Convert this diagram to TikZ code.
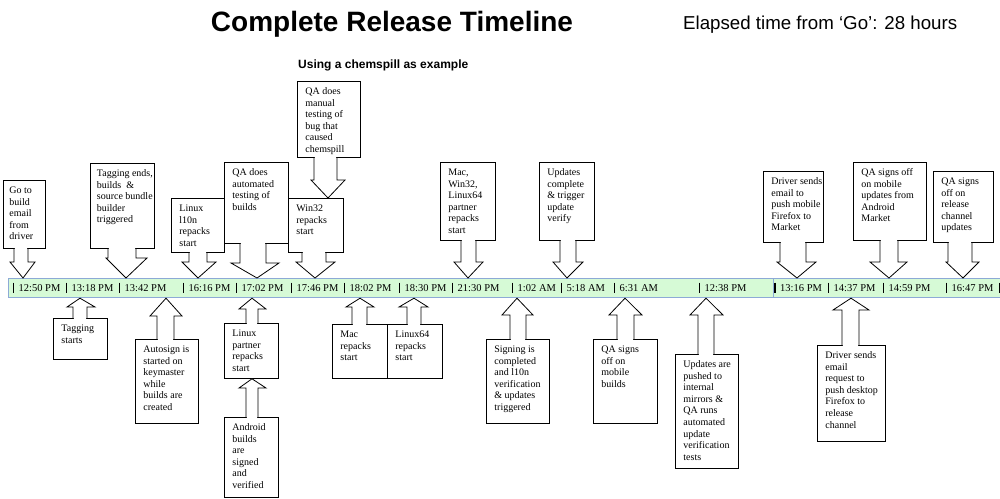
\documentclass[tikz,border=0pt]{standalone}
\usepackage{fontspec}
\setmainfont{Liberation Serif}
\newfontfamily\hfont{Liberation Sans}
\usetikzlibrary{calc}
\definecolor{barfill}{RGB}{214,250,214}
\definecolor{barline}{RGB}{141,170,214}
\tikzset{
  cbox/.style={draw=black, line width=0.8pt, fill=white, inner sep=0pt, anchor=north west},
  blockarr/.style={draw=black, line width=0.8pt, fill=white, line join=miter},
  timebar/.style={draw=barline, line width=1.2pt, fill=barfill, inner sep=0pt, anchor=north west, minimum height=19pt},
  tickmark/.style={line width=0.9pt, black},
  tlabel/.style={font=\fontsize{10.5}{12}\selectfont, inner sep=0pt, anchor=base west},
}
% callout box: name, left x, top y, width, height, left inset, lines
\newcommand{\cb}[7]{%
  \node[cbox] (#1) at (#2,#3) {\parbox[t][#5pt][t]{#4pt}{\fontsize{10}{11.6}\selectfont\vspace*{4.9pt}\hspace*{#6pt}\begin{tabular}[t]{@{}l@{}}#7\end{tabular}}};}
% block arrow: box anchor, tip coordinate, shaft left x, shaft right x, head left x, head right x, head base y
\newcommand{\barr}[7]{%
  \filldraw[blockarr] (#3,0 |- #1) -- (#3,#7) -- (#5,#7) -- (#2) -- (#6,#7) -- (#4,#7) -- (#4,0 |- #1);
  \fill[white] ($(#3,0 |- #1)+(0.7,-1.2)$) rectangle ($(#4,0 |- #1)+(-0.7,1.2)$);}
\begin{document}
\begin{tikzpicture}[x=1pt,y=-1pt]
\useasboundingbox (0,0) rectangle (1000,498);
\fill[white] (0,0) rectangle (1000,498);

% titles
\node[font=\hfont\bfseries\fontsize{28}{30}\selectfont, anchor=base, inner sep=0pt] (title) at (392,31) {Complete Release Timeline};
\node[font=\hfont\fontsize{18.7}{20}\selectfont, anchor=base west, inner sep=0pt] (elapsed) at (683,29) {Elapsed time from ‘Go’: 28 hours};
\node[font=\hfont\bfseries\fontsize{12}{14}\selectfont, anchor=base west, inner sep=0pt] (sub) at (298,68) {Using a chemspill as example};

% timeline bars
\node[timebar, minimum width=765pt] (bar1) at (8,278) {};
\node[timebar, minimum width=232pt] (bar2) at (773,278) {};

\foreach \i/\x/\t in {1/13/12:50 PM, 2/66/13:18 PM, 3/119/13:42 PM, 4/183/16:16 PM, 5/236/17:02 PM, 6/291/17:46 PM,
  7/344/18:02 PM, 8/399/18:30 PM, 9/452/21:30 PM, 10/512/1:02 AM, 11/561/5:18 AM, 12/614/6:31 AM, 13/699/12:38 PM,
  15/828/14:37 PM, 16/883/14:59 PM, 17/946/16:47 PM}{
  \draw[tickmark] (\x,282.5) -- (\x,292.5);
  \node[tlabel] (lab\i) at (\x+5.5,291) {\t};
}
\draw[tickmark, line width=2pt] (774.5,282.5) -- (774.5,292.5);
\node[tlabel] (lab14) at (780,291) {13:16 PM};
\draw[tickmark] (999,282.5) -- (999,292.5);

% tip coordinates
\coordinate (tA1) at (23,0 |- bar1.north);
\coordinate (tA2) at (126,0 |- bar1.north);
\coordinate (tA3) at (198,0 |- bar1.north);
\coordinate (tA4) at (257,0 |- bar1.north);
\coordinate (tA5) at (315,0 |- bar1.north);
\coordinate (tA17) at (468,0 |- bar1.north);
\coordinate (tA18) at (567,0 |- bar1.north);
\coordinate (tA19) at (797,0 |- bar2.north);
\coordinate (tA20) at (889,0 |- bar2.north);
\coordinate (tA21) at (963,0 |- bar2.north);
\coordinate (tB7) at (80,0 |- bar1.south);
\coordinate (tB8) at (166,0 |- bar1.south);
\coordinate (tB9) at (252,0 |- bar1.south);
\coordinate (tB11) at (360,0 |- bar1.south);
\coordinate (tB12) at (414,0 |- bar1.south);
\coordinate (tB13) at (517,0 |- bar1.south);
\coordinate (tB14) at (625,0 |- bar1.south);
\coordinate (tB15) at (706,0 |- bar1.south);
\coordinate (tB16) at (851,0 |- bar2.south);

% top callouts
\cb{b1}{3}{180}{42}{68}{6}{Go to\\build\\email\\from\\driver}
\cb{b2}{90}{163}{64}{85}{6.5}{Tagging ends,\\builds\ \ \&\\source bundle\\builder\\triggered}
\cb{b3}{171}{198}{53}{54}{8}{Linux\\l10n\\repacks\\start}
\cb{b4}{224}{162}{64}{81}{8}{QA does\\automated\\testing of\\builds}
\cb{b5}{288}{198}{55}{54}{8}{Win32\\repacks\\start}
\cb{b6}{297}{81}{63}{76}{8}{QA does\\manual\\testing of\\bug that\\caused\\chemspill}
\cb{b17}{440}{162}{55}{78}{8}{Mac,\\Win32,\\Linux64\\partner\\repacks\\start}
\cb{b18}{539}{162}{55}{78}{8}{Updates\\complete\\\& trigger\\update\\verify}
\cb{b19}{763}{171}{60}{71}{8}{Driver sends\\email to\\push mobile\\Firefox to\\Market}
\cb{b20}{853}{162}{73}{78}{8}{QA signs off\\on mobile\\updates from\\Android\\Market}
\cb{b21}{933}{171}{60}{71}{8}{QA signs\\off on\\release\\channel\\updates}

% bottom callouts
\cb{b7}{53}{318}{54}{41}{8}{Tagging\\starts}
\cb{b8}{135}{339}{63}{84}{8}{Autosign is\\started on\\keymaster\\while\\builds are\\created}
\cb{b9}{224}{323}{54}{55}{8}{Linux\\partner\\repacks\\start}
\cb{b10}{224}{417}{54}{80}{8}{Android\\builds\\are\\signed\\and\\verified}
\cb{b11}{332}{324}{55}{54}{8}{Mac\\repacks\\start}
\cb{b12}{387}{324}{55}{54}{8}{Linux64\\repacks\\start}
\cb{b13}{486}{339}{63}{84}{8}{Signing is\\completed\\and l10n\\verification\\\& updates\\triggered}
\cb{b14}{593}{339}{64}{84}{8}{QA signs\\off on\\mobile\\builds}
\cb{b15}{675}{354}{63}{114}{8}{Updates are\\pushed to\\internal\\mirrors \&\\QA runs\\automated\\update\\verification\\tests}
\cb{b16}{817}{345}{68}{96}{8}{Driver sends\\email\\request to\\push desktop\\Firefox to\\release\\channel}

\coordinate (tA6) at (328,0 |- b5.north);
\coordinate (tB10) at (252,0 |- b9.south);

% top arrows
\barr{b1.south}{tA1}{14}{28}{10}{35}{262}
\barr{b2.south}{tA2}{108}{136}{106}{147}{258}
\barr{b3.south}{tA3}{189}{207}{182}{216}{262}
\barr{b4.south}{tA4}{240}{266}{231}{279}{263}
\barr{b5.south}{tA5}{302}{326}{296}{335}{262}
\barr{b6.south}{tA6}{314}{337}{311}{345}{180}
\barr{b17.south}{tA17}{461}{476}{454}{483}{262}
\barr{b18.south}{tA18}{560}{576}{553}{583}{262}
\barr{b19.south}{tA19}{780}{806}{777}{816}{262}
\barr{b20.south}{tA20}{880}{898}{870}{907}{262}
\barr{b21.south}{tA21}{948}{972}{946}{979}{262}

% bottom arrows
\barr{b7.north}{tB7}{73}{87}{67}{95}{307}
\barr{b8.north}{tB8}{157}{174}{150}{182}{316}
\barr{b9.north}{tB9}{246}{258}{239}{266}{309}
\barr{b10.north}{tB10}{246}{258}{239}{266}{388}
\barr{b11.north}{tB11}{352}{367}{346}{374}{307}
\barr{b12.north}{tB12}{407}{421}{399}{428}{307}
\barr{b13.north}{tB13}{510}{526}{502}{533}{315}
\barr{b14.north}{tB14}{617}{634}{609}{642}{315}
\barr{b15.north}{tB15}{698}{714}{690}{723}{315}
\barr{b16.north}{tB16}{842}{859}{833}{869}{310}
\end{tikzpicture}
\end{document}
